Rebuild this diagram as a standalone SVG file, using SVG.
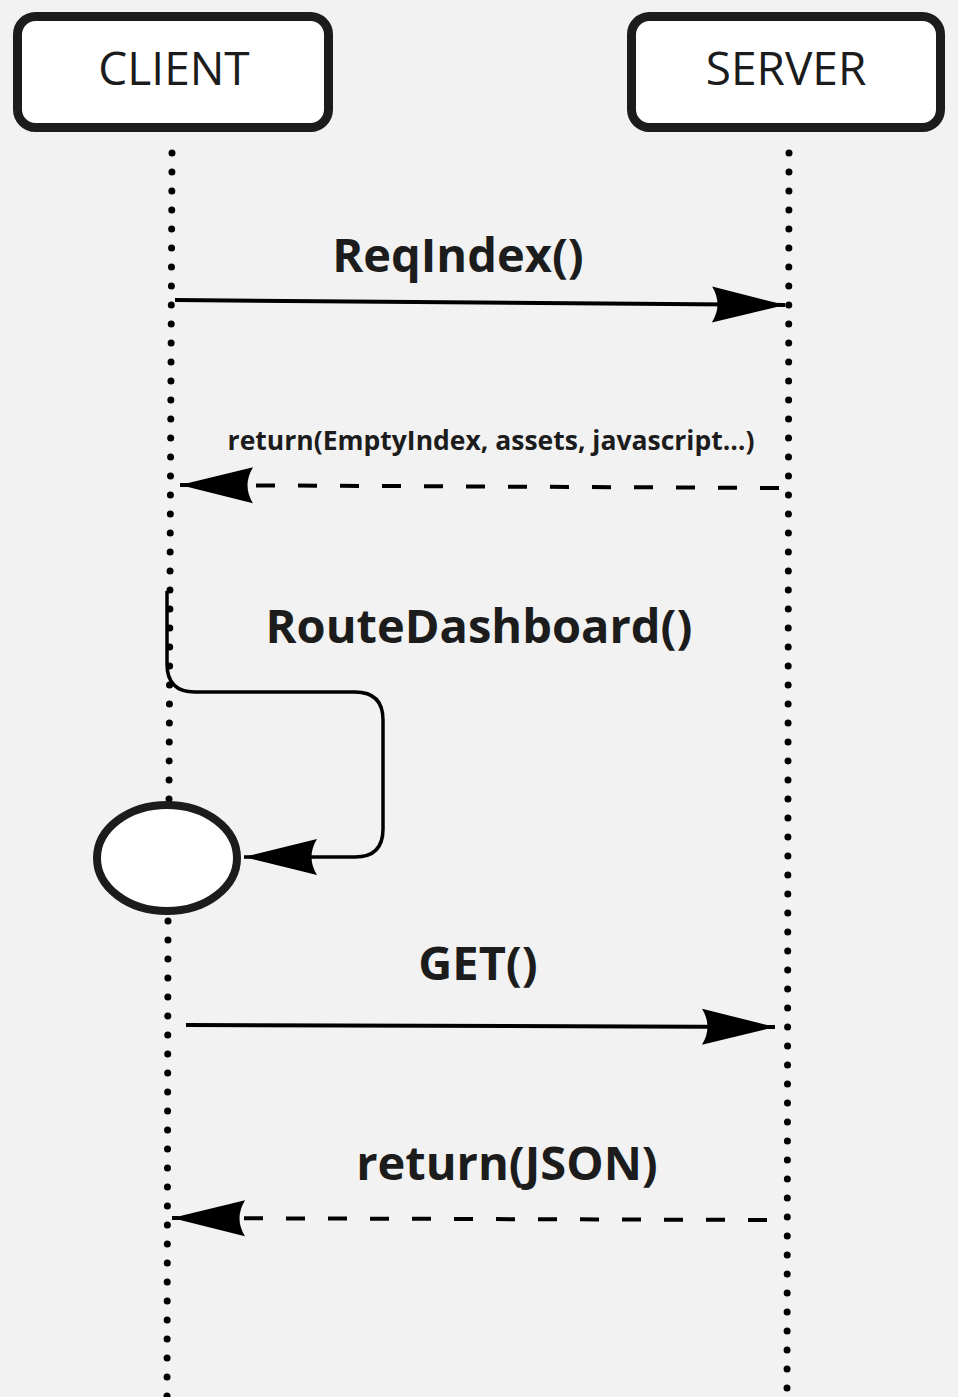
<svg xmlns="http://www.w3.org/2000/svg" width="958" height="1397" viewBox="0 0 958 1397">
  <style>
    .box { fill: #ffffff; stroke: #1c1c1c; stroke-width: 9; }
    .title { font-family: "Open Sans", "Liberation Sans", sans-serif; font-size: 46px; fill: #1c1c1c; text-anchor: middle; }
    .lbl { font-family: "Open Sans", "Liberation Sans", sans-serif; font-weight: bold; font-size: 47px; fill: #1c1c1c; text-anchor: middle; }
    .lbl-s { font-size: 26.5px; }
    .life { fill: none; stroke: #000; stroke-width: 7; stroke-linecap: round; stroke-dasharray: 0 19; }
    .msg { fill: none; stroke: #000; stroke-width: 4; }
    .dash { stroke-dasharray: 19 23; }
    .loop { fill: none; stroke: #000; stroke-width: 3.5; }
  </style>
  <defs>
    <marker id="ah" markerUnits="userSpaceOnUse" viewBox="-76 -20 78 40" markerWidth="78" markerHeight="40" refX="0" refY="0" orient="auto">
      <path d="M0,0 L-73,-18 Q-62,0 -73,18 Z" fill="#000"/>
    </marker>
  </defs>
  <rect width="958" height="1397" fill="#f2f2f2"/>

  <g id="client">
    <rect class="box" x="17.5" y="16.5" width="311" height="111" rx="18"/>
    <text class="title" x="174" y="85">CLIENT</text>
  </g>
  <g id="server">
    <rect class="box" x="631.5" y="16.5" width="309" height="111" rx="18"/>
    <text class="title" x="786" y="85">SERVER</text>
  </g>

  <g id="lifelines">
    <path class="life" d="M172,153 L169,800"/>
    <path class="life" d="M168,921 L167,1397"/>
    <path class="life" d="M789,153 L787,1397"/>
  </g>

  <g id="activation">
    <ellipse cx="167" cy="858" rx="70" ry="53" fill="#fff" stroke="#1c1c1c" stroke-width="8"/>
  </g>

  <g id="connectors">
    <line class="msg" x1="175" y1="300" x2="785" y2="305" marker-end="url(#ah)"/>
    <line class="msg dash" x1="779" y1="488" x2="180" y2="485" marker-end="url(#ah)"/>
    <path class="loop" d="M167,591 L167,664 Q167,692 195,692 L355,692 Q383,692 383,720 L383,829 Q383,857 355,857 L244,857" marker-end="url(#ah)"/>
    <line class="msg" x1="186" y1="1025" x2="775" y2="1027" marker-end="url(#ah)"/>
    <line class="msg dash" x1="767" y1="1220" x2="172" y2="1218" marker-end="url(#ah)"/>
  </g>

  <g id="labels">
    <text class="lbl" x="458" y="272">ReqIndex()</text>
    <text class="lbl lbl-s" x="491" y="450">return(EmptyIndex, assets, javascript…)</text>
    <text class="lbl" x="479" y="643">RouteDashboard()</text>
    <text class="lbl" x="478" y="980">GET()</text>
    <text class="lbl" x="507" y="1180">return(JSON)</text>
  </g>
</svg>
